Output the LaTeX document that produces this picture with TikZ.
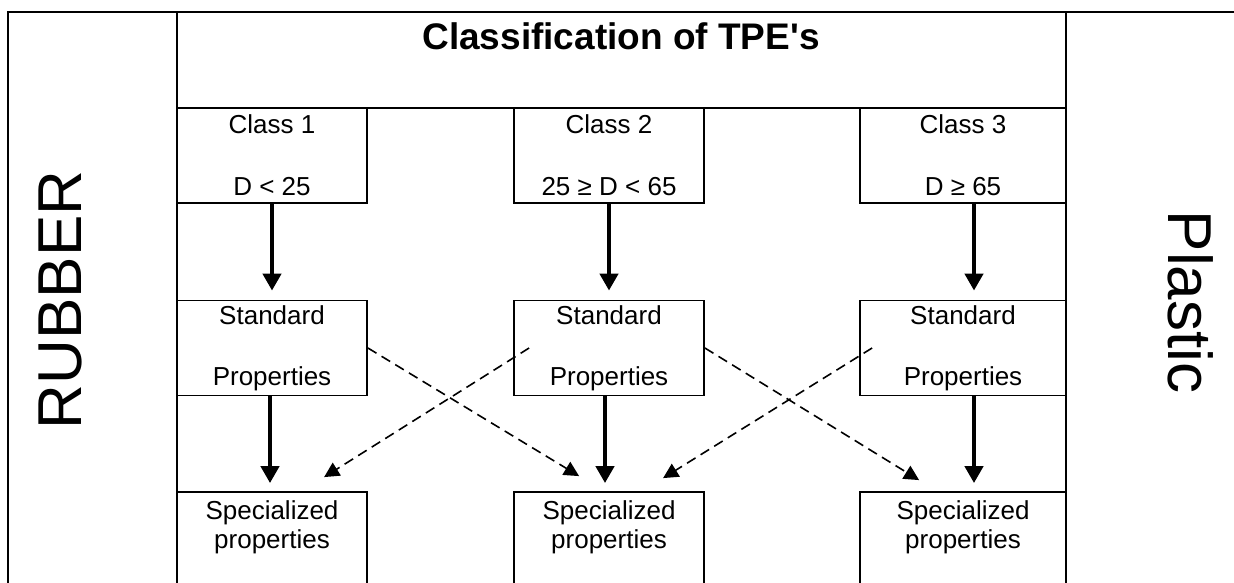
\documentclass[tikz,border=0pt]{standalone}
\usepackage{fontspec}
\setmainfont{Liberation Sans}
\newfontfamily\titlefont{Liberation Sans}[Ligatures=TeXOff]
\usetikzlibrary{arrows.meta}

\begin{document}
\begin{tikzpicture}[x=1pt,y=-1pt,line width=1.8pt,
  cellbox/.style={draw,minimum width=190pt,minimum height=95pt,inner sep=0pt,align=center,font=\fontsize{26}{30}\selectfont},
  specbox/.style={cellbox,font=\fontsize{26}{29}\selectfont},
  bigarrow/.style={line width=4.8pt,-{Triangle[length=17pt,width=18pt]}},
  dasharrow/.style={line width=1.6pt,dash pattern=on 10pt off 6pt,-{Triangle[length=15pt,width=15pt]}},
  sidelabel/.style={font=\fontsize{62}{70}\selectfont}]
\useasboundingbox (0,0) rectangle (1234,583);
% table frame
\draw (8,590) -- (8,12) -- (1234,12);
\draw (177,12) -- (177,590);
\draw (1066,12) -- (1066,590);
\draw (177,108) -- (1066,108);
\node (title) at (621,36) {\titlefont\fontsize{37}{44}\selectfont\bfseries Classification of TPE's};
\node[sidelabel,rotate=90] (rubber) at (60,300) {RUBBER};
\node[sidelabel,rotate=-90] (plastic) at (1191,302) {Plastic};
% classes
\node[cellbox] (c1) at (272,155.5) {Class 1\\[32pt]D < 25};
\node[cellbox] (c2) at (609,155.5) {Class 2\\[32pt]25 ≥ D < 65};
\node[cellbox,minimum width=206pt] (c3) at (963,155.5) {Class 3\\[32pt]D ≥ 65};
% standard properties
\node[cellbox] (s1) at (272,348) {Standard\\[31pt]Properties};
\node[cellbox] (s2) at (609,348) {Standard\\[31pt]Properties};
\node[cellbox,minimum width=206pt] (s3) at (963,348) {Standard\\[31pt]Properties};
% specialized properties
\node[specbox] (p1) at (272,539.5) {Specialized\\properties\\\mbox{}};
\node[specbox] (p2) at (609,539.5) {Specialized\\properties\\\mbox{}};
\node[specbox,minimum width=206pt] (p3) at (963,539.5) {Specialized\\properties\\\mbox{}};
% arrows
\draw[bigarrow,shorten >=9pt] (c1) -- (s1);
\draw[bigarrow,shorten >=9pt] (c2) -- (s2);
\draw[bigarrow,shorten >=9pt] ([xshift=11pt]c3.south) -- ([xshift=11pt]s3.north);
\draw[bigarrow,shorten >=8pt] ([xshift=-2pt]s1.south) -- ([xshift=-2pt]p1.north);
\draw[bigarrow,shorten >=8pt] ([xshift=-4pt]s2.south) -- ([xshift=-4pt]p2.north);
\draw[bigarrow,shorten >=8pt] ([xshift=11pt]s3.south) -- ([xshift=11pt]p3.north);
\draw[dasharrow] (s1.east) -- ([xshift=66pt,yshift=15pt]p2.north west);
\draw[dasharrow] ([xshift=16pt]s2.west) -- ([xshift=148pt,yshift=14pt]p1.north west);
\draw[dasharrow] (s2.east) -- ([xshift=60pt,yshift=11pt]p3.north west);
\draw[dasharrow] ([xshift=13pt]s3.west) -- ([xshift=150pt,yshift=13pt]p2.north west);
\end{tikzpicture}
\end{document}
